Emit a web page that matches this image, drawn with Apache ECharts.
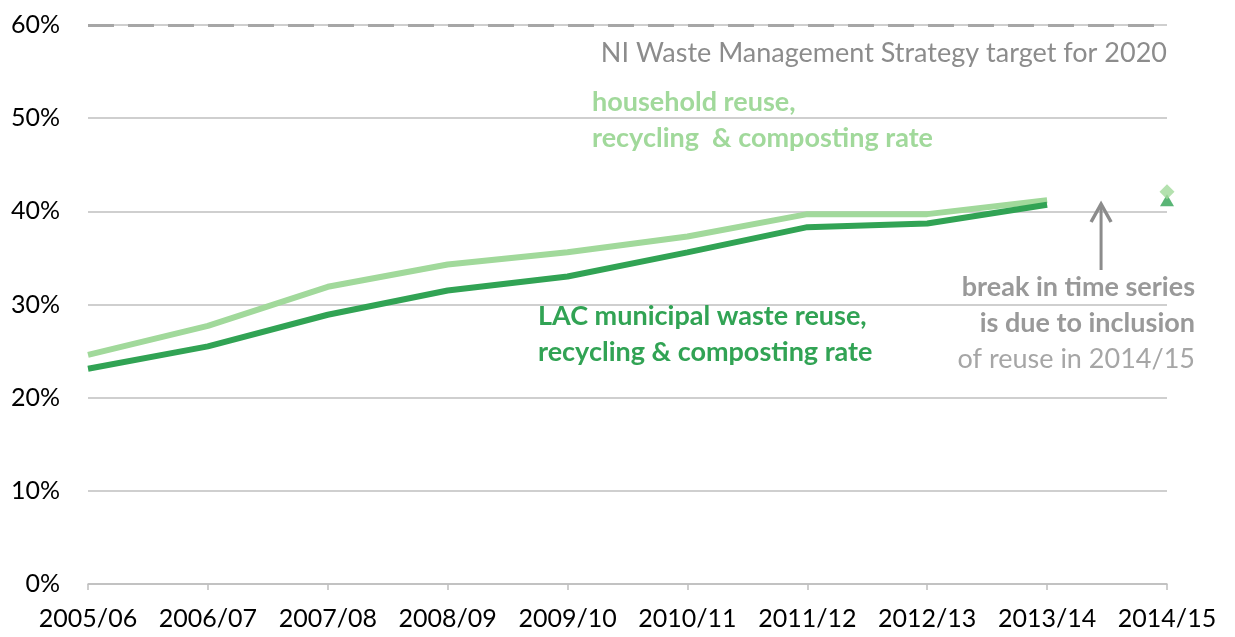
<!DOCTYPE html>
<html lang="en">
<head>
<meta charset="UTF-8">
<title>Recycling rates</title>
<script src="https://cdn.jsdelivr.net/npm/echarts@6/dist/echarts.min.js"></script>
<style>
  html, body { margin: 0; height: 100%; background: #fff; }
  #main { width: 1235px; height: 637px; }
</style>
</head>
<body>
<div id="main"></div>
<script>
// data
var years = ['2005/06', '2006/07', '2007/08', '2008/09', '2009/10', '2010/11', '2011/12', '2012/13', '2013/14', '2014/15'];
var household = [24.6, 27.7, 31.9, 34.3, 35.6, 37.3, 39.7, 39.7, 41.2, null];
var lac = [23.1, 25.5, 28.9, 31.5, 33.0, 35.6, 38.3, 38.7, 40.7, null];
var householdNew = 42.1;   // 2014/15, includes reuse
var lacNew = 41.2;
var target = 60;

var lightGreen = '#a1d99b';
var darkGreen = '#31a354';
var grey = '#999999';
var font = 'Lato, "Open Sans", sans-serif';

var chart = echarts.init(document.getElementById('main'));

var option = {
  animation: false,
  grid: { left: 88, right: 68, top: 25, bottom: 53 },
  xAxis: {
    type: 'category',
    data: years,
    boundaryGap: false,
    axisLine: { lineStyle: { color: '#bfbfbf', width: 1.5 } },
    axisTick: { show: true, length: 6, interval: 0, lineStyle: { color: '#bfbfbf', width: 1.5 } },
    axisLabel: { color: '#000', fontSize: 25, fontFamily: font, margin: 22, interval: 0 }
  },
  yAxis: {
    type: 'value',
    min: 0, max: 60, interval: 10,
    axisLine: { show: false },
    axisTick: { show: false },
    splitLine: { lineStyle: { color: '#bfbfbf', width: 1.5 } },
    axisLabel: { color: '#000', fontSize: 25, fontFamily: font, margin: 28, formatter: '{value}%' }
  },
  series: [
    {
      name: 'household',
      type: 'line',
      data: household,
      showSymbol: false,
      lineStyle: { color: lightGreen, width: 6 },
      markLine: {
        silent: true,
        symbol: 'none',
        label: { show: false },
        lineStyle: { color: '#a6a6a6', width: 3, type: [26, 14] },
        data: [{ yAxis: target }]
      }
    },
    {
      name: 'lac',
      type: 'line',
      data: lac,
      showSymbol: false,
      lineStyle: { color: darkGreen, width: 6 }
    },
    {
      type: 'scatter',
      data: [[9, lacNew]],
      symbol: 'triangle',
      symbolSize: [14, 12],
      itemStyle: { color: darkGreen }
    },
    {
      type: 'scatter',
      data: [[9, householdNew]],
      symbol: 'diamond',
      symbolSize: [15, 15],
      itemStyle: { color: lightGreen }
    }
  ]
};

chart.setOption(option);

// annotation texts and the "break" arrow, placed after the axes exist
var x8 = chart.convertToPixel({ xAxisIndex: 0 }, 8);
var x9 = chart.convertToPixel({ xAxisIndex: 0 }, 9);
var ax = x8 + (x9 - x8) * 0.45;
var ayTop = chart.convertToPixel({ yAxisIndex: 0 }, 41);
var ayBot = chart.convertToPixel({ yAxisIndex: 0 }, 33.7);

chart.setOption({
  graphic: [
    {
      type: 'text', right: 68, top: 38,
      style: { text: 'NI Waste Management Strategy target for 2020', fill: '#8c8c8c', font: '27px ' + font, lineHeight: 30, textAlign: 'right' }
    },
    {
      type: 'text', left: 592, top: 84,
      style: { text: 'household reuse,\nrecycling  & composting rate', fill: lightGreen, font: 'bold 27px ' + font, lineHeight: 36 }
    },
    {
      type: 'text', left: 538, top: 298,
      style: { text: 'LAC municipal waste reuse,\nrecycling & composting rate', fill: darkGreen, font: 'bold 27px ' + font, lineHeight: 36 }
    },
    {
      type: 'text', right: 40, top: 274,
      style: {
        rich: {
          b: { fill: grey, font: 'bold 27px ' + font, align: 'right', lineHeight: 36 },
          r: { fill: '#a6a6a6', font: '27px ' + font, align: 'right', lineHeight: 36 }
        },
        text: '{b|break in time series}\n{b|is due to inclusion}\n{r|of reuse in 2014/15}',
        textAlign: 'right'
      }
    },
    {
      type: 'line',
      shape: { x1: ax, y1: ayBot, x2: ax, y2: ayTop + 2 },
      style: { stroke: '#8c8c8c', lineWidth: 3 }
    },
    {
      type: 'polyline',
      shape: { points: [[ax - 10, ayTop + 20], [ax, ayTop + 2], [ax + 10, ayTop + 20]] },
      style: { stroke: '#8c8c8c', lineWidth: 3.5, fill: null }
    }
  ]
});
</script>
</body>
</html>
